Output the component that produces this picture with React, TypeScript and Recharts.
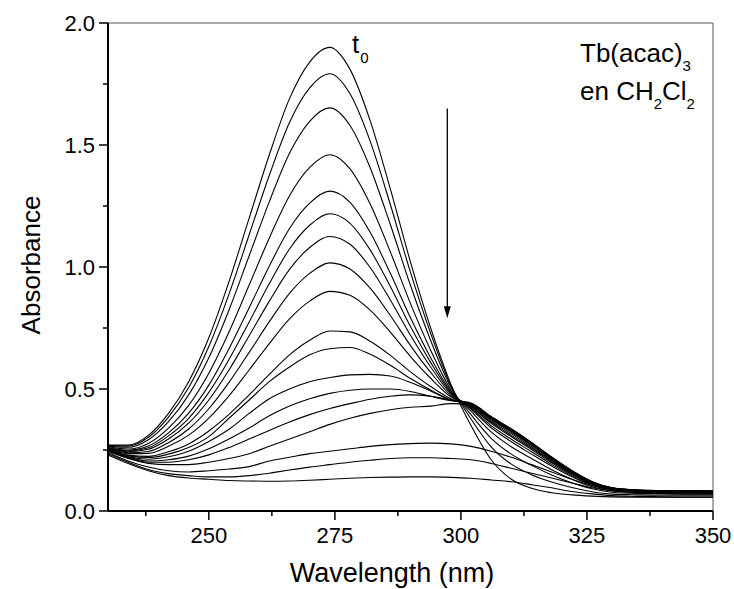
import { LineChart, Line, XAxis, YAxis, ReferenceLine } from "recharts";

// wavelength grid (nm)
const wavelengths = [
  230, 234, 238, 242, 246, 250, 254, 258, 262, 266, 270, 274, 278, 282, 286,
  290, 294, 298, 302, 306, 310, 314, 318, 322, 326, 330, 335, 340, 345, 350,
];

// absorbance spectra, t0 first
const s01 = [0.27, 0.27, 0.31, 0.4, 0.53, 0.71, 0.94, 1.2, 1.46, 1.69, 1.84, 1.9, 1.81, 1.6, 1.32, 1.02, 0.75, 0.52, 0.35, 0.21, 0.13, 0.093, 0.075, 0.066, 0.061, 0.058, 0.057, 0.057, 0.057, 0.057];
const s02 = [0.268, 0.266, 0.302, 0.385, 0.506, 0.674, 0.889, 1.132, 1.376, 1.592, 1.734, 1.792, 1.71, 1.516, 1.256, 0.978, 0.728, 0.514, 0.377, 0.263, 0.192, 0.149, 0.119, 0.096, 0.079, 0.069, 0.066, 0.065, 0.065, 0.065];
const s03 = [0.266, 0.261, 0.292, 0.366, 0.476, 0.628, 0.824, 1.046, 1.268, 1.466, 1.597, 1.652, 1.58, 1.407, 1.174, 0.924, 0.699, 0.507, 0.395, 0.298, 0.233, 0.187, 0.148, 0.116, 0.091, 0.077, 0.072, 0.071, 0.07, 0.07];
const s04 = [0.263, 0.254, 0.277, 0.34, 0.433, 0.565, 0.734, 0.926, 1.119, 1.292, 1.408, 1.46, 1.402, 1.258, 1.062, 0.85, 0.659, 0.497, 0.409, 0.324, 0.263, 0.215, 0.169, 0.13, 0.099, 0.082, 0.076, 0.075, 0.074, 0.073];
const s05 = [0.26, 0.249, 0.266, 0.32, 0.401, 0.516, 0.665, 0.833, 1.004, 1.158, 1.262, 1.311, 1.265, 1.142, 0.974, 0.792, 0.628, 0.49, 0.418, 0.341, 0.284, 0.233, 0.184, 0.14, 0.105, 0.086, 0.079, 0.077, 0.077, 0.076];
const s06 = [0.259, 0.246, 0.259, 0.308, 0.38, 0.486, 0.621, 0.775, 0.932, 1.074, 1.171, 1.218, 1.179, 1.07, 0.92, 0.756, 0.609, 0.485, 0.422, 0.35, 0.294, 0.243, 0.191, 0.145, 0.108, 0.088, 0.08, 0.079, 0.078, 0.077];
const s07 = [0.258, 0.243, 0.253, 0.295, 0.36, 0.455, 0.578, 0.718, 0.86, 0.99, 1.08, 1.125, 1.093, 0.998, 0.865, 0.72, 0.59, 0.48, 0.427, 0.359, 0.304, 0.252, 0.198, 0.15, 0.111, 0.089, 0.082, 0.08, 0.079, 0.078];
const s08 = [0.256, 0.239, 0.244, 0.28, 0.336, 0.419, 0.527, 0.65, 0.776, 0.892, 0.974, 1.017, 0.992, 0.913, 0.801, 0.678, 0.568, 0.474, 0.429, 0.364, 0.31, 0.258, 0.203, 0.153, 0.113, 0.091, 0.083, 0.081, 0.08, 0.079];
const s09 = [0.254, 0.235, 0.236, 0.265, 0.311, 0.381, 0.472, 0.578, 0.686, 0.787, 0.86, 0.9, 0.884, 0.823, 0.733, 0.633, 0.544, 0.468, 0.432, 0.369, 0.317, 0.263, 0.207, 0.156, 0.115, 0.092, 0.083, 0.082, 0.081, 0.08];
const s10 = [0.251, 0.229, 0.224, 0.243, 0.275, 0.328, 0.396, 0.476, 0.56, 0.64, 0.7, 0.738, 0.734, 0.696, 0.638, 0.57, 0.51, 0.46, 0.435, 0.375, 0.323, 0.269, 0.211, 0.159, 0.116, 0.093, 0.084, 0.082, 0.081, 0.081];
const s11 = [0.25, 0.226, 0.219, 0.233, 0.26, 0.305, 0.38, 0.455, 0.53, 0.59, 0.64, 0.665, 0.67, 0.642, 0.597, 0.543, 0.496, 0.456, 0.436, 0.378, 0.327, 0.273, 0.214, 0.161, 0.118, 0.094, 0.085, 0.083, 0.082, 0.081];
const s12 = [0.248, 0.222, 0.212, 0.222, 0.245, 0.285, 0.335, 0.4, 0.46, 0.5, 0.53, 0.547, 0.558, 0.56, 0.553, 0.527, 0.492, 0.455, 0.438, 0.382, 0.331, 0.276, 0.217, 0.163, 0.119, 0.094, 0.085, 0.083, 0.082, 0.082];
const s13 = [0.247, 0.22, 0.205, 0.21, 0.225, 0.255, 0.295, 0.34, 0.39, 0.43, 0.46, 0.482, 0.495, 0.5, 0.5, 0.49, 0.47, 0.452, 0.44, 0.385, 0.335, 0.28, 0.22, 0.165, 0.12, 0.095, 0.086, 0.084, 0.083, 0.082];
const s14 = [0.246, 0.218, 0.2, 0.2, 0.21, 0.23, 0.26, 0.295, 0.33, 0.365, 0.395, 0.42, 0.44, 0.458, 0.47, 0.476, 0.47, 0.455, 0.443, 0.387, 0.337, 0.281, 0.221, 0.166, 0.121, 0.095, 0.086, 0.084, 0.083, 0.082];
const s15 = [0.245, 0.215, 0.195, 0.19, 0.19, 0.2, 0.215, 0.235, 0.265, 0.295, 0.325, 0.355, 0.38, 0.4, 0.415, 0.425, 0.43, 0.44, 0.437, 0.38, 0.329, 0.274, 0.216, 0.162, 0.118, 0.094, 0.085, 0.083, 0.082, 0.081];
const s16 = [0.24, 0.205, 0.18, 0.165, 0.16, 0.165, 0.172, 0.182, 0.205, 0.22, 0.235, 0.245, 0.255, 0.265, 0.272, 0.276, 0.278, 0.275, 0.265, 0.245, 0.22, 0.19, 0.16, 0.13, 0.105, 0.09, 0.08, 0.077, 0.075, 0.074];
const s17 = [0.235, 0.2, 0.17, 0.153, 0.145, 0.14, 0.14, 0.145, 0.155, 0.168, 0.18, 0.19, 0.2, 0.208, 0.215, 0.218, 0.218, 0.215, 0.21, 0.195, 0.175, 0.155, 0.135, 0.115, 0.095, 0.083, 0.075, 0.072, 0.07, 0.07];
const s18 = [0.23, 0.195, 0.165, 0.145, 0.135, 0.13, 0.125, 0.123, 0.122, 0.123, 0.126, 0.13, 0.134, 0.137, 0.139, 0.14, 0.14, 0.138, 0.134, 0.127, 0.12, 0.108, 0.095, 0.08, 0.07, 0.063, 0.06, 0.058, 0.057, 0.057];

const spectra = [s01, s02, s03, s04, s05, s06, s07, s08, s09, s10, s11, s12, s13, s14, s15, s16, s17, s18];

const xTicks = [237.5, 250, 262.5, 275, 287.5, 300, 312.5, 325, 337.5, 350];
const yTicks = [0, 0.25, 0.5, 0.75, 1, 1.25, 1.5, 1.75, 2];

// arrow showing the decrease with time
const arrowWl = 297.3;
const arrowFrom = 1.65;
const arrowTo = 0.79;

const chartData = wavelengths.map((wl, i) => {
  const row: Record<string, number> = { wl };
  spectra.forEach((s, k) => {
    row["s" + k] = s[i];
  });
  return row;
});

const FONT = "'Liberation Sans', Arial, Helvetica, sans-serif";

const XTick = (props: any) => {
  const { x, y, payload } = props;
  const major = payload.value % 25 === 0;
  return (
    <g>
      <line x1={x} y1={y} x2={x} y2={y + (major ? 9 : 5)} stroke="#000" strokeWidth={1.5} />
      {major && (
        <text x={x} y={y + 32} textAnchor="middle" fontSize={22} fill="#000" fontFamily={FONT}>
          {payload.value}
        </text>
      )}
    </g>
  );
};

const YTick = (props: any) => {
  const { x, y, payload } = props;
  const v = payload.value;
  const major = Math.abs(v * 2 - Math.round(v * 2)) < 1e-6;
  return (
    <g>
      <line x1={x} y1={y} x2={x - (major ? 9 : 5)} y2={y} stroke="#000" strokeWidth={1.5} />
      {major && (
        <text x={x - 13} y={y + 8} textAnchor="end" fontSize={22} fill="#000" fontFamily={FONT}>
          {v.toFixed(1)}
        </text>
      )}
    </g>
  );
};

const ArrowShape = (props: any) => {
  const { x1, y1, x2, y2 } = props;
  return (
    <g>
      <line x1={x1} y1={y1} x2={x2} y2={y2 - 8} stroke="#000" strokeWidth={1.3} />
      <polygon
        points={`${x2 - 3.5},${y2 - 12} ${x2 + 3.5},${y2 - 12} ${x2},${y2}`}
        fill="#000"
      />
    </g>
  );
};

export default function App() {
  return (
    <div
      style={{
        position: "absolute",
        left: 0,
        top: 0,
        width: 734,
        height: 589,
        background: "#fff",
        fontFamily: FONT,
      }}
    >
      <LineChart
        width={734}
        height={589}
        data={chartData}
        margin={{ top: 23, right: 21, bottom: 38, left: 48 }}
      >
        <XAxis
          dataKey="wl"
          type="number"
          domain={[230, 350]}
          ticks={xTicks}
          tick={<XTick />}
          tickLine={false}
          tickSize={0}
          tickMargin={0}
          height={40}
          axisLine={{ stroke: "#000", strokeWidth: 2 }}
          interval={0}
        />
        <YAxis
          type="number"
          domain={[0, 2]}
          ticks={yTicks}
          tick={<YTick />}
          tickLine={false}
          tickSize={0}
          tickMargin={0}
          width={60}
          axisLine={{ stroke: "#000", strokeWidth: 2 }}
          interval={0}
        />
        <ReferenceLine y={2} stroke="#555" strokeWidth={1} />
        <ReferenceLine x={350} stroke="#555" strokeWidth={1} />
        {spectra.map((_, k) => (
          <Line
            key={k}
            dataKey={"s" + k}
            type="monotone"
            stroke="#000"
            strokeWidth={1.1}
            dot={false}
            isAnimationActive={false}
          />
        ))}
        <ReferenceLine
          segment={[
            { x: arrowWl, y: arrowFrom },
            { x: arrowWl, y: arrowTo },
          ]}
          shape={<ArrowShape />}
        />
      </LineChart>
      <svg
        width={734}
        height={589}
        style={{ position: "absolute", left: 0, top: 0, pointerEvents: "none" }}
        fontFamily={FONT}
      >
        <text x={352} y={53} fontSize={26} fill="#000">
          t
          <tspan fontSize={15} dx={1} dy={10}>0</tspan>
        </text>
        <text x={580} y={62} fontSize={26} fill="#000">
          Tb(acac)
          <tspan fontSize={15} dy={9}>3</tspan>
        </text>
        <text x={580} y={100} fontSize={26} fill="#000">
          en CH
          <tspan fontSize={15} dy={9}>2</tspan>
          <tspan dy={-9}>Cl</tspan>
          <tspan fontSize={15} dy={9}>2</tspan>
        </text>
        <text transform="rotate(-90)" x={-265} y={40} textAnchor="middle" fontSize={26} fill="#000">
          Absorbance
        </text>
        <text x={392} y={582} textAnchor="middle" fontSize={27} fill="#000">
          Wavelength (nm)
        </text>
      </svg>
    </div>
  );
}
